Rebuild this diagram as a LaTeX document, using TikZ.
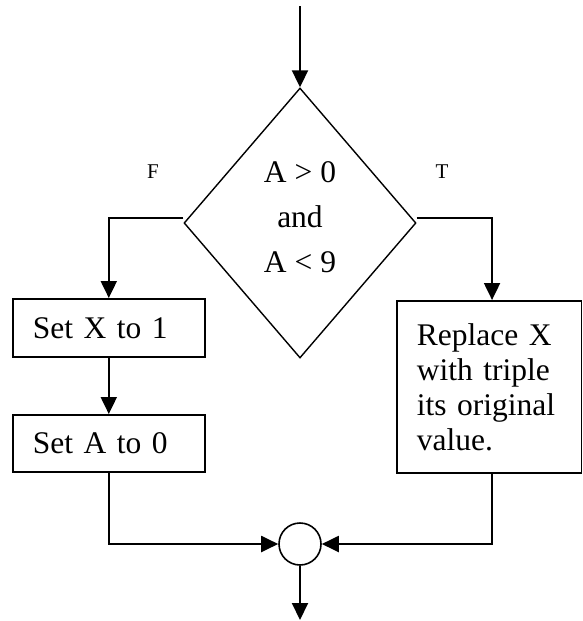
\documentclass[tikz,border=0pt]{standalone}
\usepackage{fontspec}
\setmainfont{Liberation Serif}
\usetikzlibrary{shapes.geometric,arrows.meta}
\begin{document}
\begin{tikzpicture}[x=1pt,y=-1pt,
  arr/.style={line width=2pt,-{Triangle[width=16pt,length=17pt]}},
  boxnode/.style={draw,line width=1.6pt,rectangle,inner xsep=20pt,inner ysep=0pt,align=left,
     font=\fontsize{31.5}{35}\selectfont},
  lbl/.style={font=\fontsize{21}{24}\selectfont,inner sep=0pt}]
\useasboundingbox (0,0) rectangle (582,621);
\node[diamond,draw,line width=1.4pt,minimum width=232pt,minimum height=270pt,inner sep=0pt] (dec) at (300,223) {};
\node[align=center,inner sep=0pt,font=\fontsize{31.5}{45}\selectfont] (dtext) at (300,217.5) {A > 0\\and\\A < 9};
\node[boxnode,text width=152pt,minimum height=58pt,anchor=north west] (setx) at (12,298) {Set X to 1};
\node[boxnode,text width=152pt,minimum height=57pt,anchor=north west] (seta) at (12,414) {Set A to 0};
\node[boxnode,text width=144.5pt,minimum height=172pt,anchor=north west] (repl) at (396,300) {Replace X\\with triple\\its original\\value.};
\node[circle,draw,line width=1.6pt,minimum size=42pt,inner sep=0pt] (circ) at (300,544) {};
\node[lbl] (F) at (153,172) {F};
\node[lbl] (T) at (442,172) {T};
\coordinate (start) at (300,6);
\coordinate (finish) at (300,620);
\draw[arr] (start) -- (dec.north);
\draw[arr] ([yshift=5pt]dec.west) -| (setx.north);
\draw[arr] ([yshift=5pt]dec.east) -| ([xshift=3pt]repl.north);
\draw[arr] (setx.south) -- (seta.north);
\draw[arr] (seta.south) |- (circ.west);
\draw[arr] ([xshift=3pt]repl.south) |- (circ.east);
\draw[arr] (circ.south) -- (finish);
\end{tikzpicture}
\end{document}
